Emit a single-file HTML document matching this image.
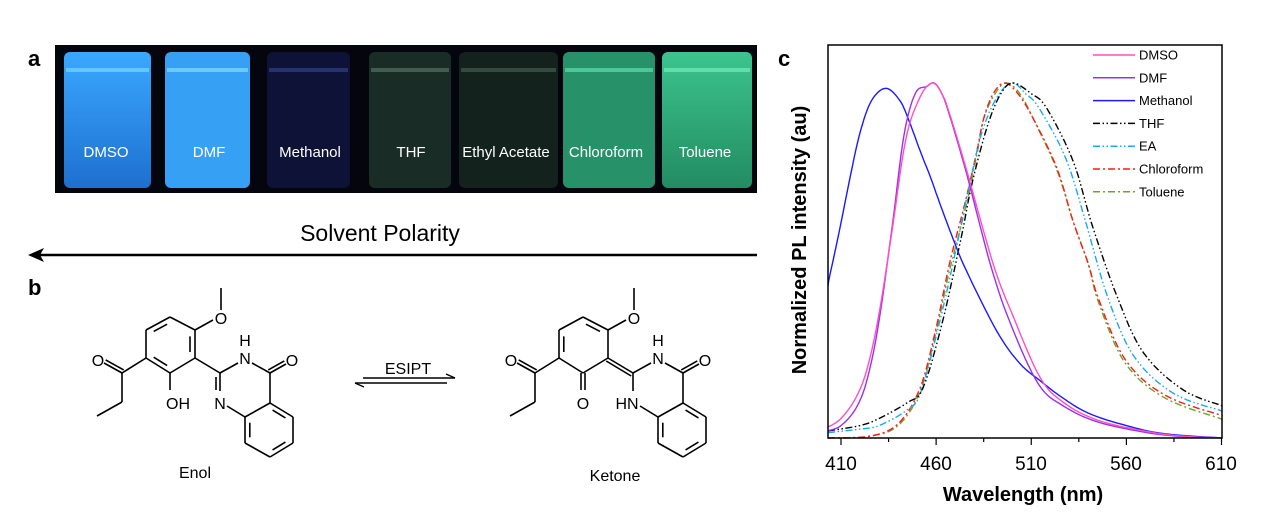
<!DOCTYPE html>
<html><head><meta charset="utf-8"><style>
body{margin:0;background:#fff;width:1269px;height:518px;overflow:hidden;font-family:"Liberation Sans",Arial,sans-serif}
</style></head><body>
<svg id="s" width="1269" height="518" viewBox="0 0 1269 518" xmlns="http://www.w3.org/2000/svg" font-family="Liberation Sans, Arial, sans-serif">
<defs>
<linearGradient id="gb" x1="0" x2="0" y1="0" y2="1"><stop offset="0" stop-color="#3aa8ff"/><stop offset="0.5" stop-color="#2c8ce8"/><stop offset="1" stop-color="#1d6fd0"/></linearGradient>
<linearGradient id="gg" x1="0" x2="0" y1="0" y2="1"><stop offset="0" stop-color="#3cc48e"/><stop offset="1" stop-color="#238c62"/></linearGradient>
</defs>
<text x="28" y="66" font-size="22" font-weight="bold">a</text>
<rect x="55" y="45" width="702" height="148" fill="#05060d"/>
<rect x="64" y="52" width="87" height="136" rx="6" fill="url(#gb)"/>
<rect x="165" y="52" width="85" height="136" rx="6" fill="#35a0f4"/>
<rect x="267" y="52" width="83" height="136" rx="6" fill="#0d1236"/>
<rect x="369" y="52" width="82" height="136" rx="6" fill="#1a2c26"/>
<rect x="459" y="52" width="99" height="136" rx="6" fill="#13221d"/>
<rect x="563" y="52" width="92" height="136" rx="6" fill="#27926a"/>
<rect x="662" y="52" width="90" height="136" rx="6" fill="url(#gg)"/>
<g fill="none" stroke-width="4" opacity="0.8">
<line x1="66" y1="70" x2="149" y2="70" stroke="#6fd0ff"/><line x1="167" y1="70" x2="248" y2="70" stroke="#7ad6ff"/>
<line x1="269" y1="70" x2="348" y2="70" stroke="#2a3a80"/><line x1="371" y1="70" x2="449" y2="70" stroke="#4a6a5c"/>
<line x1="461" y1="70" x2="556" y2="70" stroke="#3a5448"/><line x1="565" y1="70" x2="653" y2="70" stroke="#55d6a0"/>
<line x1="664" y1="70" x2="750" y2="70" stroke="#6ae8b4"/></g>
<g fill="#fff" font-size="15" font-family="Liberation Sans Narrow, Liberation Sans, sans-serif" text-anchor="middle">
<text x="106" y="157">DMSO</text><text x="209" y="157">DMF</text><text x="310" y="157">Methanol</text>
<text x="411" y="157">THF</text><text x="506" y="157">Ethyl Acetate</text><text x="606" y="157">Chloroform</text><text x="705" y="157">Toluene</text></g>
<text x="380" y="241" font-size="23" text-anchor="middle">Solvent Polarity</text>
<line x1="757" y1="255" x2="40" y2="255" stroke="#000" stroke-width="2.5"/>
<polygon points="28,255 44,248 40,255 44,262" fill="#000"/>
<text x="28" y="295" font-size="22" font-weight="bold">b</text>
<g id="mol" stroke="#000" stroke-width="1.6" fill="none"></g>
<g font-size="16" text-anchor="middle">
<text x="195" y="478">Enol</text><text x="615" y="481">Ketone</text>
<text x="408" y="374">ESIPT</text></g>
<g stroke="#000" stroke-width="1.4" fill="none">
<line x1="363" y1="378" x2="455" y2="378"/><polyline points="446,374 455,378"/>
<line x1="355" y1="383" x2="447" y2="383"/><polyline points="364,387 355,383"/></g>
<text x="778" y="66" font-size="22" font-weight="bold">c</text>
<g id="curves" fill="none" stroke-width="1.4"></g>
<rect x="828" y="45" width="394" height="393" fill="none" stroke="#000" stroke-width="1.5"/>
<g id="ticks" stroke="#000" stroke-width="1.2"></g>
<g font-size="19" text-anchor="middle">
<text x="841" y="470">410</text><text x="936" y="470">460</text><text x="1031" y="470">510</text><text x="1126" y="470">560</text><text x="1221" y="470">610</text></g>
<text x="1023" y="501" font-size="20" font-weight="bold" text-anchor="middle">Wavelength (nm)</text>
<text transform="translate(806,240) rotate(-90)" font-size="20" font-weight="bold" text-anchor="middle">Normalized PL intensity (au)</text>
<g id="leg" font-size="13"></g>
</svg>
<script>
var NS="http://www.w3.org/2000/svg";
function el(p,t,a){var e=document.createElementNS(NS,t);for(var k in a)e.setAttribute(k,a[k]);p.appendChild(e);return e;}
var mol=document.getElementById('mol');
function L(x1,y1,x2,y2){el(mol,'line',{x1:x1,y1:y1,x2:x2,y2:y2});}
function T(x,y,s){var t=el(mol,'text',{x:x,y:y,'font-size':16,'text-anchor':'middle',fill:'#000',stroke:'none'});t.textContent=s;}
function inner(ax,ay,bx,by,cx,cy){var f=0.2,sh=0.15;var px=ax+(bx-ax)*sh,py=ay+(by-ay)*sh,qx=bx-(bx-ax)*sh,qy=by-(by-ay)*sh;
 L(px+(cx-px)*f,py+(cy-py)*f,qx+(cx-qx)*f,qy+(cy-qy)*f);}
function dbl(ax,ay,bx,by,o){var dx=bx-ax,dy=by-ay,l=Math.hypot(dx,dy),nx=-dy/l*o,ny=dx/l*o;L(ax+nx,ay+ny,bx+nx,by+ny);}
function draw(ox,keto){
 var A=[[170,317],[195,330],[195,358],[170,373],[146,358],[146,330]].map(p=>[p[0]+ox,p[1]]);
 var c=[170+ox,345];
 for(var i=0;i<6;i++){var a=A[i],b=A[(i+1)%6];L(a[0],a[1],b[0],b[1]);}
 if(!keto){inner(A[5][0],A[5][1],A[0][0],A[0][1],c[0],c[1]);inner(A[1][0],A[1][1],A[2][0],A[2][1],c[0],c[1]);inner(A[3][0],A[3][1],A[4][0],A[4][1],c[0],c[1]);}
 else{inner(A[0][0],A[0][1],A[1][0],A[1][1],c[0],c[1]);inner(A[4][0],A[4][1],A[5][0],A[5][1],c[0],c[1]);}
 L(195+ox,330,213+ox,320);T(221+ox,324,'O');L(221+ox,310,221+ox,288);
 L(146+ox,358,122+ox,373);L(122+ox,373,104+ox,363);dbl(122+ox,373,104+ox,363,3.5);T(98+ox,366,'O');
 L(122+ox,373,122+ox,402);L(122+ox,402,97+ox,416);
 if(!keto){L(170+ox,373,170+ox,390);T(178+ox,409,'OH');}
 else{L(168+ox,373,168+ox,390);L(172+ox,373,172+ox,390);T(170+ox,409,'O');}
 var C2=[220+ox,373];
 L(195+ox,358,C2[0],C2[1]);if(keto)dbl(195+ox,358,C2[0],C2[1],3.5);
 L(C2[0],C2[1],238+ox,363);
 T(245+ox,364,'N');T(245+ox,346,'H');
 L(252+ox,363,270+ox,373);L(270+ox,373,286+ox,364);dbl(270+ox,373,286+ox,364,-3.5);T(292+ox,366,'O');
 L(270+ox,373,270+ox,403);
 if(!keto){L(C2[0],C2[1],C2[0],391);L(C2[0]-4,377,C2[0]-4,390);T(220+ox,409,'N');L(227+ox,406,245+ox,417);}
 else{L(C2[0],C2[1],C2[0],391);T(214+ox,409,'HN');L(227+ox,406,245+ox,417);}
 var B=[[270,403],[293,417],[293,443],[270,457],[245,443],[245,417]].map(p=>[p[0]+ox,p[1]]);
 var bc=[269+ox,430];
 for(var i=0;i<6;i++){var a=B[i],b=B[(i+1)%6];L(a[0],a[1],b[0],b[1]);}
 inner(B[0][0],B[0][1],B[1][0],B[1][1],bc[0],bc[1]);inner(B[2][0],B[2][1],B[3][0],B[3][1],bc[0],bc[1]);inner(B[4][0],B[4][1],B[5][0],B[5][1],bc[0],bc[1]);
}
draw(0,false);draw(413,true);
function X(l){return 841+(l-410)*1.9025;}function Y(f){return 438-f*355;}
function path(pts){var d='',n=pts.length;
 for(var i=0;i<n-1;i++){var p0=pts[Math.max(i-1,0)],p1=pts[i],p2=pts[i+1],p3=pts[Math.min(i+2,n-1)];
  for(var s=0;s<8;s++){var t=s/8,t2=t*t,t3=t2*t;
   var l=0.5*((2*p1[0])+(-p0[0]+p2[0])*t+(2*p0[0]-5*p1[0]+4*p2[0]-p3[0])*t2+(-p0[0]+3*p1[0]-3*p2[0]+p3[0])*t3);
   var f=0.5*((2*p1[1])+(-p0[1]+p2[1])*t+(2*p0[1]-5*p1[1]+4*p2[1]-p3[1])*t2+(-p0[1]+3*p1[1]-3*p2[1]+p3[1])*t3);
   f=Math.max(0,f);l=Math.min(Math.max(l,403.2),610.5);
   d+=(d?'L':'M')+X(l).toFixed(1)+' '+Y(f).toFixed(1);}}
 var q=pts[n-1];d+='L'+X(Math.min(q[0],610.5)).toFixed(1)+' '+Y(q[1]).toFixed(1);return d;}
var S=[
['DMSO','#ff4fc4',null,[[403,.03],[410,.055],[418,.115],[424,.2],[430,.35],[437,.59],[444,.84],[451.5,.96],[458,1],[463,.97],[467,.915],[476,.755],[490,.49],[500.7,.34],[514.7,.17],[527,.1],[545,.05],[571,.018],[590,.005],[611,0]]],
['DMF','#9a30f0',null,[[403,.02],[410,.035],[418,.085],[424,.17],[430,.33],[437,.6],[443,.85],[449,.97],[455,.99],[459,1],[463,.97],[467,.91],[476,.745],[489,.48],[500,.31],[514,.15],[527,.09],[545,.045],[571,.015],[590,.004],[611,0]]],
['Methanol','#1a1aff',null,[[403,.43],[409,.58],[415,.74],[420,.86],[426,.95],[433.6,.985],[441,.95],[446,.89],[451.5,.81],[457,.735],[462,.66],[469,.56],[476,.47],[492,.3],[504,.21],[515,.16],[526,.115],[540,.07],[560,.035],[580,.012],[611,0]]],
['THF','#000','7,2.5,1.5,2.5,1.5,2.5',[[403,.02],[420,.035],[430,.055],[445,.1],[453,.14],[463,.32],[473,.56],[479,.72],[487,.88],[494,.97],[500.5,1],[510,.97],[518,.93],[532,.78],[542,.6],[555,.4],[569,.24],[590,.135],[611,.09]]],
['EA','#19a9f0','7,2.5,1.5,2.5,1.5,2.5',[[403,.015],[420,.025],[430,.035],[445,.08],[452,.13],[462,.33],[470,.52],[477,.7],[484,.86],[492,.96],[500,1],[507,.97],[514,.93],[528,.79],[538,.62],[550,.4],[564,.23],[585,.125],[611,.075]]],
['Chloroform','#ff1a1a','7,3,2,3',[[403,0],[425,.005],[440,.04],[451.5,.14],[460,.31],[467,.49],[476,.68],[481.5,.81],[485,.9],[490,.97],[496,1],[503,.97],[511,.9],[523.5,.76],[532,.61],[540,.49],[545.5,.39],[559.5,.22],[580.5,.12],[611,.062]]],
['Toluene','#6aa828','7,3,2,3',[[403,0],[425,.005],[440,.035],[451.5,.13],[460,.3],[467,.47],[476,.66],[481.5,.8],[485,.9],[491,.97],[497,1],[504,.97],[511,.9],[523.5,.755],[532,.61],[540,.49],[545.5,.38],[559.5,.21],[580.5,.112],[611,.052]]]];
var cv=document.getElementById('curves'),lg=document.getElementById('leg');
S.slice().reverse().forEach(function(s){var a={d:path(s[3]),stroke:s[1]};if(s[2])a['stroke-dasharray']=s[2];el(cv,'path',a);});
S.forEach(function(s,i){var y=55+i*22.8;var a={x1:1093,x2:1135,y1:y,y2:y,stroke:s[1],'stroke-width':1.5};if(s[2])a['stroke-dasharray']=s[2];el(lg,'line',a);
 var t=el(lg,'text',{x:1139,y:y+4.5});t.textContent=s[0];});
var tk=document.getElementById('ticks');
for(var l=410;l<=610;l+=25){var x=X(l);el(tk,'line',{x1:x,x2:x,y1:438,y2:(l-410)%50==0?445:442});}
</script>
</body></html>
